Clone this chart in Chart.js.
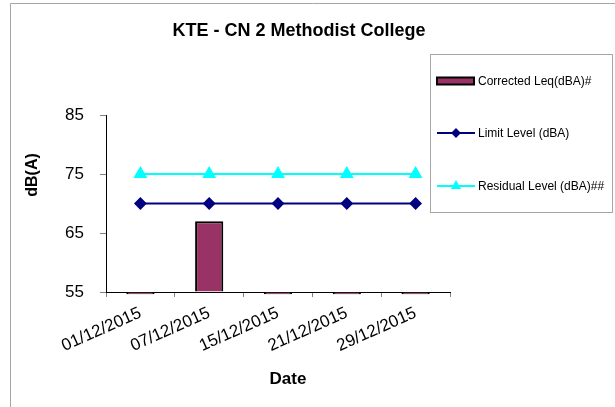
<!DOCTYPE html>
<html>
<head>
<meta charset="utf-8">
<script src="https://cdn.jsdelivr.net/npm/chart.js@4"></script>
<style>
  html, body { margin: 0; padding: 0; background: #fff; }
  #wrap { position: relative; width: 615px; height: 407px; }
</style>
</head>
<body>
<div id="wrap"><canvas id="noiseChart" width="615" height="407"></canvas></div>
<script>
const dates = ['01/12/2015', '07/12/2015', '15/12/2015', '21/12/2015', '29/12/2015'];
// the empty days sit just under the 55 axis floor in the picture
const correctedLeq = [54.6, 67, 54.6, 54.6, 54.6];
const limitLevel = [70, 70, 70, 70, 70];
const residualLevel = [75, 75, 75, 75, 75];
const yTicks = [55, 65, 75, 85];

const FONT = '"Liberation Sans", Arial, sans-serif';

// titles + boxed legend the way the spreadsheet drew them
const excelBits = {
  id: 'excelBits',
  afterDraw(chart) {
    const c = chart.ctx;
    c.save();
    // outer frame (only top and left edges are in the picture)
    c.strokeStyle = '#a6a6a6';
    c.lineWidth = 1;
    c.beginPath();
    c.moveTo(10.5, 407);
    c.lineTo(10.5, 3.5);
    c.lineTo(615, 3.5);
    c.stroke();

    c.fillStyle = '#000';
    c.textAlign = 'center';
    c.textBaseline = 'middle';
    c.font = 'bold 18px ' + FONT;
    c.fillText('KTE - CN 2 Methodist College', 299, 31);
    c.font = 'bold 17px ' + FONT;
    c.fillText('Date', 288, 379);
    c.save();
    c.translate(33, 175);
    c.rotate(-Math.PI / 2);
    c.font = 'bold 16px ' + FONT;
    c.fillText('dB(A)', 0, 0);
    c.restore();

    // legend box
    c.strokeStyle = '#a6a6a6';
    c.strokeRect(430.5, 54.5, 182, 158);
    c.font = '12px ' + FONT;
    c.textAlign = 'left';
    const rows = [81, 133, 186];
    chart.data.datasets.forEach((ds, i) => {
      const y = rows[i];
      if (ds.type === 'bar') {
        c.fillStyle = ds.backgroundColor;
        c.fillRect(437, y - 3.5, 37, 7);
        c.strokeStyle = ds.borderColor;
        c.lineWidth = 2;
        c.strokeRect(437, y - 3.5, 37, 7);
      } else {
        c.strokeStyle = ds.borderColor;
        c.lineWidth = 2;
        c.beginPath();
        c.moveTo(437, y);
        c.lineTo(475, y);
        c.stroke();
        Chart.helpers.drawPoint(c, {
          pointStyle: ds.pointStyle, radius: ds.pointStyle === 'triangle' ? 4 : 3.5,
          borderWidth: 1, rotation: 0
        }, 456, y);
        c.fillStyle = ds.pointBackgroundColor;
        c.fill();
      }
      c.fillStyle = '#000';
      c.fillText(ds.label, 478, y + 0.5);
    });
    c.restore();
  }
};

new Chart(document.getElementById('noiseChart'), {
  data: {
    labels: dates,
    datasets: [{
      type: 'bar',
      label: 'Corrected Leq(dBA)#',
      data: correctedLeq,
      base: yTicks[0],
      clip: false,
      backgroundColor: '#993366',
      borderColor: '#000000',
      borderWidth: 2,
      barPercentage: 0.41,
      categoryPercentage: 1,
      order: 3
    }, {
      type: 'line',
      label: 'Limit Level (dBA)',
      data: limitLevel,
      borderColor: '#000080',
      backgroundColor: '#000080',
      pointBackgroundColor: '#000080',
      pointBorderColor: '#000080',
      borderWidth: 2,
      pointStyle: 'rectRot',
      pointRadius: 5,
      order: 2
    }, {
      type: 'line',
      label: 'Residual Level (dBA)##',
      data: residualLevel,
      borderColor: '#00ffff',
      backgroundColor: '#00ffff',
      pointBackgroundColor: '#00ffff',
      pointBorderColor: '#00ffff',
      borderWidth: 2,
      pointStyle: 'triangle',
      pointRadius: 6,
      order: 1
    }]
  },
  options: {
    responsive: false,
    animation: false,
    devicePixelRatio: 1,
    layout: { padding: { left: 10, right: 165, top: 115, bottom: 0 } },
    plugins: {
      legend: { display: false },
      title: { display: false },
      tooltip: { enabled: false }
    },
    scales: {
      x: {
        afterFit: s => { s.height = 115; },
        grid: { drawOnChartArea: false, color: '#808080', tickLength: 5, offset: true },
        border: { color: '#000', width: 1 },
        ticks: {
          color: '#000', font: { family: FONT, size: 17 },
          minRotation: 24, maxRotation: 24, padding: 6, autoSkip: false
        }
      },
      y: {
        min: 55,
        max: 85,
        afterFit: s => { s.width = 96; },
        afterBuildTicks: s => { s.ticks = yTicks.map(v => ({ value: v })); },
        grid: { drawOnChartArea: false, color: '#808080', tickLength: 6 },
        border: { color: '#000', width: 1 },
        ticks: { color: '#000', font: { family: FONT, size: 17 }, padding: 16 }
      }
    }
  },
  plugins: [excelBits]
});
</script>
</body>
</html>
